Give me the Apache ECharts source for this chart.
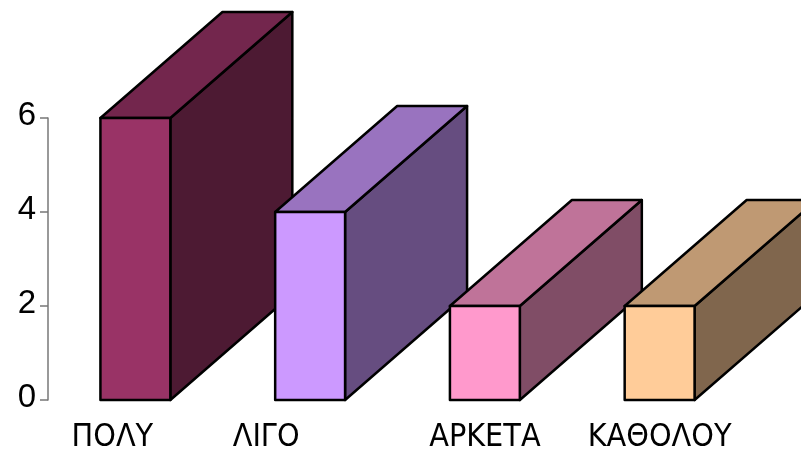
<!DOCTYPE html>
<html>
<head>
<meta charset="utf-8">
<script src="https://cdn.jsdelivr.net/npm/echarts@6/dist/echarts.min.js"></script>
<style>
  html, body { margin: 0; padding: 0; background: #fff; }
  #chart { width: 801px; height: 458px; }
</style>
</head>
<body>
<div id="chart"></div>
<script>
// Categories and values
var categories = ['ΠΟΛΥ', 'ΛΙΓΟ', 'ΑΡΚΕΤΑ', 'ΚΑΘΟΛΟΥ'];
var values = [6, 4, 2, 2];
var yTicks = [0, 2, 4, 6];

// Front-face colours; top and side faces are darker shades
var frontColors = ['#993366', '#CC99FF', '#FF99CC', '#FFCC99'];
// Horizontal nudge of each category label (px)
var labelShift = [-23, -44, 0, 0];

function shade(hex, k) {
  var n = parseInt(hex.slice(1), 16);
  var r = Math.round(((n >> 16) & 255) * k);
  var g = Math.round(((n >> 8) & 255) * k);
  var b = Math.round((n & 255) * k);
  return 'rgb(' + r + ',' + g + ',' + b + ')';
}

var DEPTH_X = 122, DEPTH_Y = -106;
var stroke = { stroke: '#000', lineWidth: 2.5, lineJoin: 'round' };

function renderBox(params, api) {
  var i = api.value(0);
  var v = api.value(1);
  var top = api.coord([i, v]);
  var base = api.coord([i, 0]);
  var band = api.size([1, 0])[0];
  var w = band * 0.4;
  var x0 = top[0] - w / 2, x1 = top[0] + w / 2;
  var yT = top[1], yB = base[1];
  var c = frontColors[i];
  return {
    type: 'group',
    children: [
      { type: 'polygon', shape: { points: [[x1, yT], [x1 + DEPTH_X, yT + DEPTH_Y], [x1 + DEPTH_X, yB + DEPTH_Y], [x1, yB]] },
        style: Object.assign({ fill: shade(c, 0.5) }, stroke) },
      { type: 'polygon', shape: { points: [[x0, yT], [x0 + DEPTH_X, yT + DEPTH_Y], [x1 + DEPTH_X, yT + DEPTH_Y], [x1, yT]] },
        style: Object.assign({ fill: shade(c, 0.75) }, stroke) },
      { type: 'rect', shape: { x: x0, y: yT, width: w, height: yB - yT },
        style: Object.assign({ fill: c }, stroke) }
    ]
  };
}

var narrow = "'Liberation Sans Narrow', 'DejaVu Sans Condensed', 'Liberation Sans', sans-serif";
var rich = {};
categories.forEach(function (c, i) {
  var s = labelShift[i];
  rich['c' + i] = {
    fontFamily: narrow,
    fontSize: 32, color: '#000',
    padding: s < 0 ? [0, -2 * s, 0, 0] : [0, 0, 0, 2 * s]
  };
});

var chart = echarts.init(document.getElementById('chart'), null, { renderer: 'canvas' });
chart.setOption({
  animation: false,
  backgroundColor: '#fff',
  grid: { left: 48, right: 54, top: 118, bottom: 58, containLabel: false },
  xAxis: {
    type: 'category',
    data: categories,
    boundaryGap: true,
    axisLine: { show: false },
    axisTick: { show: false },
    axisLabel: {
      margin: 22,
      interval: 0,
      formatter: function (val, idx) { return '{c' + idx + '|' + val + '}'; },
      rich: rich
    }
  },
  yAxis: {
    type: 'value',
    min: yTicks[0],
    max: yTicks[yTicks.length - 1],
    interval: 2,
    splitLine: { show: false },
    axisLine: { show: true, lineStyle: { color: '#777', width: 1.5 } },
    axisTick: { show: true, length: 8, lineStyle: { color: '#777', width: 1.5 } },
    axisLabel: {
      margin: 12,
      formatter: function (v) { return '{n|' + v + '}'; },
      rich: { n: { fontSize: 33, color: '#000', fontFamily: "'Liberation Sans', Arial, sans-serif", padding: [0, 0, 4, 0] } }
    }
  },
  series: [{
    type: 'custom',
    clip: false,
    renderItem: renderBox,
    data: values.map(function (v, i) { return [i, v]; })
  }]
});
</script>
</body>
</html>
